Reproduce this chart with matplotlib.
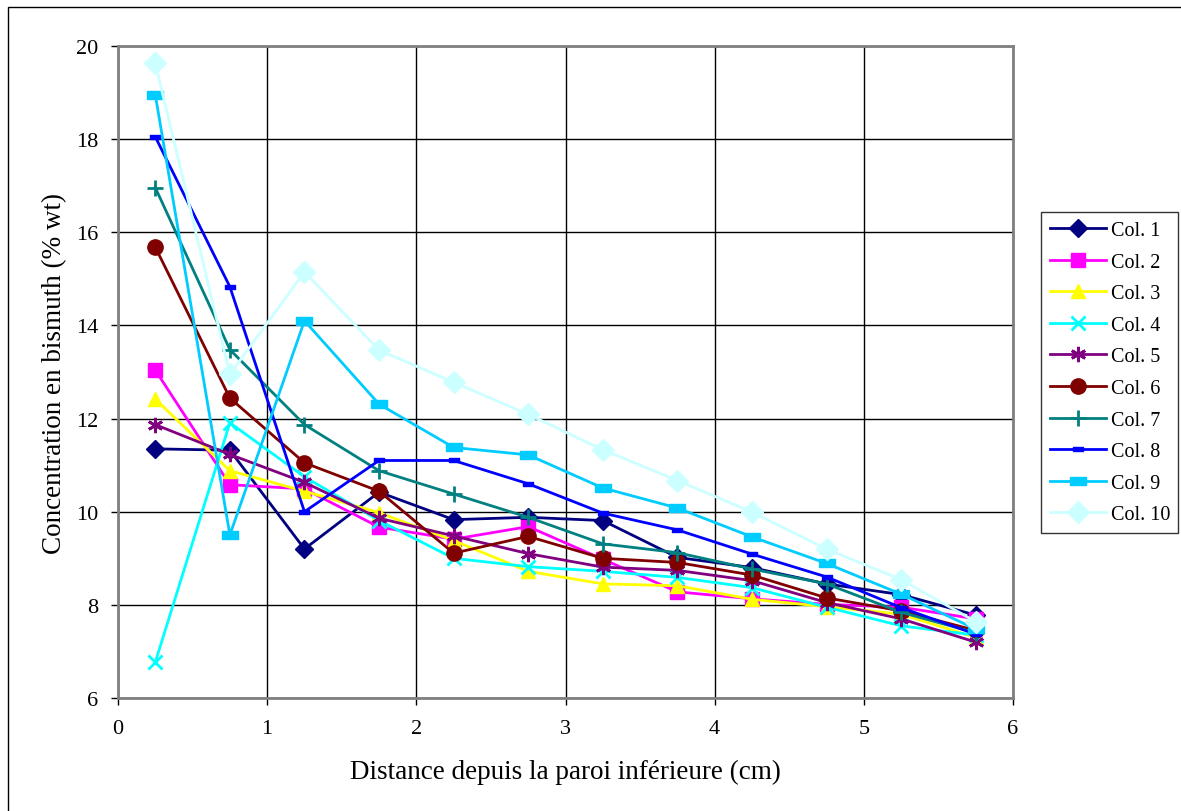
import matplotlib
matplotlib.use("Agg")
import matplotlib.pyplot as plt
from matplotlib.path import Path
from matplotlib.patches import Rectangle

x = [0.25, 0.75, 1.25, 1.75, 2.25, 2.75, 3.25, 3.75, 4.25, 4.75, 5.25, 5.75]

col1 = [11.35, 11.32, 9.20, 10.42, 9.83, 9.88, 9.81, 9.02, 8.80, 8.45, 8.22, 7.78]
col2 = [13.04, 10.58, 10.49, 9.67, 9.41, 9.68, 8.98, 8.28, 8.13, 8.01, 7.95, 7.70]
col3 = [12.42, 10.88, 10.44, 9.98, 9.38, 8.72, 8.45, 8.41, 8.12, 7.96, 7.80, 7.30]
col4 = [6.77, 11.91, 10.75, 9.81, 9.00, 8.82, 8.72, 8.59, 8.37, 7.95, 7.55, 7.35]
col5 = [11.87, 11.23, 10.63, 9.86, 9.48, 9.10, 8.81, 8.74, 8.52, 8.05, 7.70, 7.20]
col6 = [15.68, 12.44, 11.05, 10.44, 9.11, 9.47, 9.00, 8.91, 8.64, 8.15, 7.87, 7.45]
col7 = [16.96, 13.48, 11.87, 10.88, 10.38, 9.88, 9.31, 9.12, 8.77, 8.45, 7.84, 7.40]
col8 = [18.05, 14.83, 10.00, 11.10, 11.10, 10.60, 9.97, 9.61, 9.09, 8.60, 7.94, 7.37]
col9 = [18.95, 9.50, 14.10, 12.31, 11.38, 11.22, 10.51, 10.08, 9.46, 8.89, 8.23, 7.48]
col10 = [19.63, 12.95, 15.15, 13.47, 12.78, 12.09, 11.33, 10.67, 9.99, 9.20, 8.54, 7.64]

labels = ["Col. 1", "Col. 2", "Col. 3", "Col. 4", "Col. 5",
          "Col. 6", "Col. 7", "Col. 8", "Col. 9", "Col. 10"]
series = [col1, col2, col3, col4, col5, col6, col7, col8, col9, col10]
colors = ["#000080", "#FF00FF", "#FFFF00", "#00FFFF", "#800080",
          "#800000", "#008080", "#0000FF", "#00CCFF", "#CCFFFF"]

rect = Path([(-1, -0.45), (1, -0.45), (1, 0.45), (-1, 0.45), (-1, -0.45)],
            [Path.MOVETO, Path.LINETO, Path.LINETO, Path.LINETO, Path.CLOSEPOLY])
markers = ["D", "s", "^", "x", (6, 2, 0), "o", "+", rect, rect, "D"]
msizes = [9.5, 10, 10, 10, 11, 11, 12, 7.5, 11.5, 11]

plt.rcParams['font.family'] = ['Liberation Serif', 'DejaVu Serif']

W, H = 1181, 812
fig = plt.figure(figsize=(W / 100, H / 100), dpi=100)
fig.patch.set_facecolor("white")
L, R, T, B = 118, 1013, 47, 699
ax = fig.add_axes([L / W, 1 - B / H, (R - L) / W, (B - T) / H])

for s, lab, c, m, ms in zip(series, labels, colors, markers, msizes):
    mew = 2 if m in ("x", "+", (6, 2, 0)) else 1
    ax.plot(x, s, color=c, marker=m, markersize=ms, linewidth=2,
            markeredgewidth=mew, markerfacecolor=c, markeredgecolor=c, label=lab)

ax.set_xlim(0, 6)
ax.set_ylim(6, 20)
ax.set_xticks(range(0, 7))
ax.set_yticks(range(6, 21, 2))
ax.grid(True, color="black", linewidth=1)
ax.set_axisbelow(True)
for sp in ax.spines.values():
    sp.set_color("#808080")
    sp.set_linewidth(2)
ax.tick_params(axis="both", direction="out", length=5, width=1, color="black",
               labelsize=16)
ax.tick_params(axis="y", pad=9)
ax.tick_params(axis="x", pad=10)
ax.set_xlabel("Distance depuis la paroi inférieure (cm)", fontsize=19.5)
ax.set_ylabel("Concentration en bismuth (% wt)", fontsize=19.5)
ax.xaxis.set_label_coords(0.5, -(760 - B) / (B - T))
ax.yaxis.set_label_coords((67 - L) / (R - L), 0.5)

leg = ax.legend(loc="upper left",
                bbox_to_anchor=(1041 / W, 1 - 213 / H, (1178 - 1041) / W, 0.0001),
                bbox_transform=fig.transFigure, mode="expand", fontsize=14.5,
                frameon=True, fancybox=False, borderaxespad=0, handlelength=2.8,
                labelspacing=0.62, borderpad=0.45, handletextpad=0.25)
leg.get_frame().set_edgecolor("black")
leg.get_frame().set_linewidth(1)

fig.add_artist(Rectangle((8 / W, -0.05), 1.2, 1.05 - 8 / H,
                         transform=fig.transFigure, fill=False,
                         edgecolor="black", linewidth=1))

fig.savefig("out.png", dpi=100, facecolor="white")
